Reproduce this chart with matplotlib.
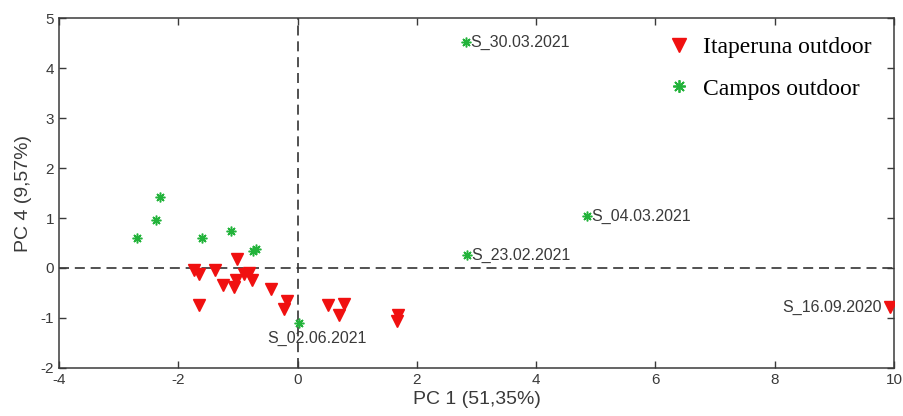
import matplotlib.pyplot as plt
from matplotlib.lines import Line2D

# PCA scores, PC1 vs PC4
ita_pc1 = [-1.01, -1.74, -1.66, -1.38, -1.25, -1.07, -1.04, -0.90, -0.82, -0.76,
           -0.45, -0.17, -0.22, -1.66, 0.51, 0.78, 0.69, 1.68, 1.66, 9.94]
ita_pc4 = [0.18, -0.05, -0.12, -0.05, -0.35, -0.39, -0.24, -0.12, -0.10, -0.25,
           -0.42, -0.66, -0.82, -0.74, -0.75, -0.72, -0.95, -0.94, -1.07, -0.78]

cam_pc1 = [2.82, 4.85, 2.84, 0.02, -2.30, -2.38, -2.70, -1.61, -1.11, -0.75, -0.70]
cam_pc4 = [4.52, 1.04, 0.26, -1.10, 1.42, 0.96, 0.60, 0.60, 0.74, 0.34, 0.38]

labels = ["S_30.03.2021", "S_04.03.2021", "S_23.02.2021", "S_02.06.2021", "S_16.09.2020"]

plt.rcParams['axes.unicode_minus'] = False
sans = ['Liberation Sans', 'DejaVu Sans']
serif = ['Liberation Serif', 'DejaVu Serif']
grey = '#3a3a3a'

fig = plt.figure(figsize=(9.04, 4.16), dpi=100)
ax = fig.add_axes([0.0653, 0.1154, 0.9237, 0.8413])

ax.axhline(0, color='#333333', lw=1.2, ls=(0, (6, 3.5)), zorder=1)
ax.axvline(0, color='#333333', lw=1.2, ls=(0, (6, 3.5)), zorder=1)

ax.plot(ita_pc1, ita_pc4, ls='none', marker='v', ms=8.5, color='#f01010',
        mec='#f01010', zorder=3)
ax.plot(cam_pc1, cam_pc4, ls='none', marker=(8, 2, 0), ms=7, color='#22b33a',
        mew=1.1, zorder=4)

# sample names
fs = 11.5
ax.text(cam_pc1[0] + 0.07, cam_pc4[0], labels[0], fontsize=fs, color=grey,
        family=sans, va='center', ha='left')
ax.text(cam_pc1[1] + 0.07, cam_pc4[1], labels[1], fontsize=fs, color=grey,
        family=sans, va='center', ha='left')
ax.text(cam_pc1[2] + 0.07, cam_pc4[2], labels[2], fontsize=fs, color=grey,
        family=sans, va='center', ha='left')
ax.text(cam_pc1[3] + 0.3, cam_pc4[3] - 0.3, labels[3], fontsize=fs, color=grey,
        family=sans, va='center', ha='center')
ax.text(ita_pc1[-1] - 0.15, ita_pc4[-1], labels[4], fontsize=fs, color=grey,
        family=sans, va='center', ha='right')

ax.set_xlim(-4, 10)
ax.set_ylim(-2, 5)
ax.set_xticks(range(-4, 11, 2))
ax.set_yticks(range(-2, 6))
ax.tick_params(direction='in', top=True, right=True, length=5, width=1,
               color=grey, labelcolor=grey, labelsize=11)
for lab in ax.get_xticklabels() + ax.get_yticklabels():
    lab.set_family(['Liberation Sans Narrow', 'Liberation Sans', 'DejaVu Sans'])
for s in ax.spines.values():
    s.set_color(grey)
    s.set_linewidth(1.1)

ax.set_xlabel('PC 1 (51,35%)', fontsize=14, color=grey, family=sans, labelpad=3)
ax.set_ylabel('PC 4 (9,57%)', fontsize=14, color=grey, family=sans, labelpad=6)

handles = [
    Line2D([], [], ls='none', marker='v', ms=10, color='#f01010'),
    Line2D([], [], ls='none', marker=(8, 2, 0), ms=9, color='#22b33a', mew=1.3),
]
ax.legend(handles, ['Itaperuna outdoor', 'Campos outdoor'], loc='upper right',
          bbox_to_anchor=(0.998, 1.008), frameon=False, prop={'family': serif, 'size': 17},
          handletextpad=0.55, labelspacing=0.85, handlelength=0.9)

fig.savefig('out.png', dpi=100)
